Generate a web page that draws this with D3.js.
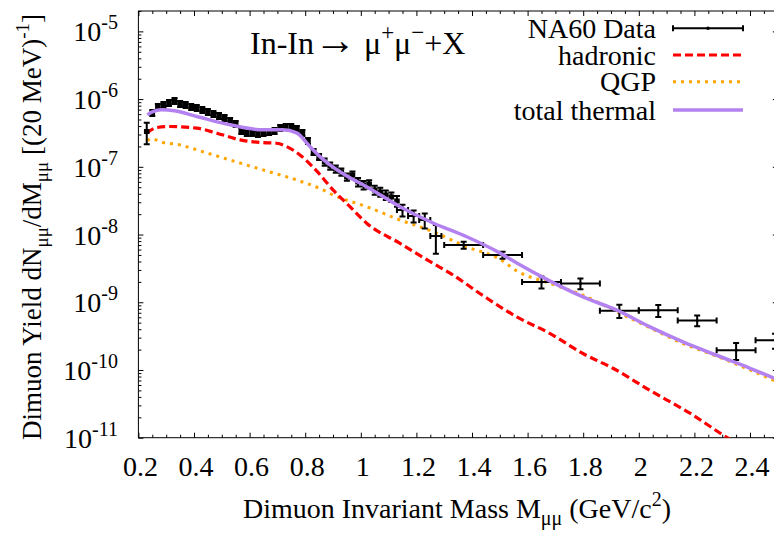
<!DOCTYPE html>
<html><head><meta charset="utf-8">
<script src="https://cdn.jsdelivr.net/npm/d3@7"></script>
<style>
body{margin:0;background:#fff}
svg{display:block}
text{font-family:"Liberation Serif","Times New Roman",serif;fill:#000}
</style>
</head><body>
<svg id="c" width="774" height="533"></svg>
<script>
// ---------------- data ----------------
const denseMass = [0.23,0.25,0.27,0.29,0.31,0.33,0.35,0.37,0.39,0.41,0.43,0.45,0.47,0.49,0.51,0.53,0.55,0.57,0.59,0.61,0.63,0.65,0.67,0.69,0.71,0.73,0.75,0.77,0.79,0.81,0.83,0.85,0.87,0.89,0.91,0.93,0.95,0.97,0.99,1.01,1.03,1.05,1.07,1.09,1.11,1.13];
const denseYield = [3.32e-7,6.27e-7,7.69e-7,8.24e-7,8.81e-7,9.44e-7,8.52e-7,8.24e-7,7.69e-7,7.43e-7,6.95e-7,6.49e-7,6.06e-7,5.66e-7,5.29e-7,4.77e-7,4.31e-7,3.40e-7,3.17e-7,3.17e-7,3.07e-7,3.17e-7,3.28e-7,3.40e-7,3.76e-7,3.89e-7,3.89e-7,3.64e-7,3.17e-7,2.42e-7,1.66e-7,1.40e-7,1.18e-7,1.03e-7,9.31e-8,8.41e-8,7.10e-8,7.59e-8,5.98e-8,5.40e-8,5.58e-8,4.55e-8,4.26e-8,3.84e-8,3.59e-8,3.13e-8];
const denseErr = [0.35,0.1,0.1,0.1,0.1,0.1,0.1,0.1,0.1,0.1,0.1,0.1,0.1,0.1,0.1,0.1,0.1,0.1,0.1,0.1,0.1,0.1,0.1,0.1,0.1,0.1,0.1,0.1,0.1,0.1,0.1,0.1,0.12,0.12,0.12,0.12,0.12,0.12,0.14,0.14,0.14,0.15,0.15,0.16,0.16,0.18];
const midMass = [1.15,1.19,1.23,1.27];
const midYield = [2.30e-8,1.88e-8,1.64e-8,9.5e-9];
const midErr = [0.2,0.2,0.25,0.45];
const tailMass = [1.37,1.51,1.65,1.79,1.93,2.07,2.21,2.35,2.49];
const tailYield = [7.0e-9,4.98e-9,2.0e-9,1.9e-9,7.5e-10,7.6e-10,5.4e-10,1.95e-10,2.75e-10];
const tailErr = [0.12,0.12,0.2,0.18,0.22,0.2,0.18,0.28,0.25];

const hadMass = [0.23,0.266,0.314,0.41,0.482,0.566,0.648,0.697,0.733,0.781,0.841,0.9,0.961,1.021,1.141,1.26,1.321,1.44,1.561,1.681,1.799,1.907,2.04,2.184,2.321,2.45];
const hadYield = [3.14e-7,3.80e-7,3.94e-7,3.72e-7,3.14e-7,2.50e-7,2.28e-7,2.23e-7,1.99e-7,1.50e-7,8.7e-8,4.57e-8,2.58e-8,1.47e-8,7.42e-9,3.75e-9,2.69e-9,1.25e-9,6.08e-10,3.45e-10,1.75e-10,1.06e-10,5.0e-11,2.3e-11,9.86e-12,5e-12];
const qgpMass = [0.232,0.245,0.29,0.35,0.41,0.53,0.648,0.769,0.864,0.9,1.021,1.141,1.26,1.381,1.501,1.561,1.681,1.799,1.921,2.04,2.159,2.28,2.4,2.5];
const qgpYield = [2.42e-7,2.6e-7,2.28e-7,2.11e-7,1.78e-7,1.26e-7,9.0e-8,6.4e-8,4.55e-8,3.84e-8,2.58e-8,1.64e-8,1.10e-8,6.6e-9,4.3e-9,2.9e-9,1.90e-9,1.27e-9,7.2e-10,4.2e-10,2.46e-10,1.6e-10,1.0e-10,6.6e-11];
const totMass = [0.232,0.25,0.284,0.33,0.41,0.53,0.648,0.72,0.769,0.817,0.85,0.889,0.95,1.021,1.141,1.26,1.381,1.501,1.561,1.681,1.799,1.921,2.04,2.159,2.28,2.4,2.5];
const totYield = [5.86e-7,6.49e-7,6.95e-7,6.71e-7,5.53e-7,4.17e-7,3.52e-7,3.52e-7,3.17e-7,1.99e-7,1.45e-7,1.07e-7,7.33e-8,5.09e-8,2.58e-8,1.48e-8,9.27e-9,5.32e-9,3.79e-9,2.05e-9,1.2e-9,7.64e-10,4.33e-10,2.6e-10,1.65e-10,1.06e-10,7.2e-11];

const xMajor = [0.2,0.4,0.6,0.8,1,1.2,1.4,1.6,1.8,2,2.2,2.4];
const xTickLabels = ["0.2","0.4","0.6","0.8","1","1.2","1.4","1.6","1.8","2","2.2","2.4"];
const yDecades = [-11,-10,-9,-8,-7,-6,-5];
const legendLabels = ["NA60 Data","hadronic","QGP","total thermal"];

// ---------------- layout ----------------
const svg = d3.select("#c");
const L=138.4, R=777.8, T=11, B=437.7;
const FS=28, SFS=20;
const x = d3.scaleLinear().domain([0.2,2.5]).range([L,R]);
const y = d3.scaleLog().domain([1e-11,2e-5]).range([B,T]);

svg.append("defs").append("clipPath").attr("id","clip")
  .append("rect").attr("x",L).attr("y",T).attr("width",R-L).attr("height",B-T);

const xMinor = d3.range(0.25,2.5,0.05).map(v=>+v.toFixed(2)).filter(v=>!xMajor.some(m=>Math.abs(m-v)<1e-6));
const yMinor = [];
yDecades.forEach(d=>{ for(let k=2;k<=9;k++){ const v=k*Math.pow(10,d); if(v<=2e-5+1e-12) yMinor.push(v);} });
const yMajor = yDecades.map(d=>Math.pow(10,d));

function ax(gen, tr){ const g=svg.append("g").attr("transform",tr).call(gen); g.select(".domain").remove(); g.selectAll("line").attr("stroke","#000"); g.selectAll("text").remove(); }
ax(d3.axisBottom(x).tickValues(xMajor).tickSize(-5),`translate(0,${B})`);
ax(d3.axisBottom(x).tickValues(xMinor).tickSize(-3),`translate(0,${B})`);
ax(d3.axisTop(x).tickValues(xMajor).tickSize(-5),`translate(0,${T})`);
ax(d3.axisTop(x).tickValues(xMinor).tickSize(-3),`translate(0,${T})`);
ax(d3.axisLeft(y).tickValues(yMajor).tickSize(-5),`translate(${L},0)`);
ax(d3.axisLeft(y).tickValues(yMinor).tickSize(-3),`translate(${L},0)`);
ax(d3.axisRight(y).tickValues(yMajor).tickSize(-5),`translate(${R},0)`);
ax(d3.axisRight(y).tickValues(yMinor).tickSize(-3),`translate(${R},0)`);

svg.append("rect").attr("x",L).attr("y",T).attr("width",R-L).attr("height",B-T)
  .attr("fill","none").attr("stroke","#000").attr("stroke-width",1);

// tick labels
svg.append("g").selectAll("text").data(xMajor).join("text")
  .attr("x",d=>x(d)+2).attr("y",476).attr("text-anchor","middle").attr("font-size",FS)
  .text((d,i)=>xTickLabels[i]);
const yl = svg.append("g").selectAll("text").data(yDecades).join("text")
  .attr("x",118).attr("y",d=>y(Math.pow(10,d))+10).attr("text-anchor","end").attr("font-size",FS);
yl.append("tspan").text("10");
yl.append("tspan").attr("font-size",SFS).attr("dy",-12).text(d=>String(d));

// axis titles
const xt = svg.append("text").attr("x",457).attr("y",518).attr("text-anchor","middle").attr("font-size",FS);
xt.append("tspan").text("Dimuon Invariant Mass M");
xt.append("tspan").attr("font-size",SFS).attr("dy",7).text("μμ");
xt.append("tspan").attr("dy",-7).text(" (GeV/c");
xt.append("tspan").attr("font-size",SFS).attr("dy",-12).text("2");
xt.append("tspan").attr("dy",12).text(")");

const yt = svg.append("text").attr("transform","translate(41,227) rotate(-90)").attr("text-anchor","middle").attr("font-size",27);
yt.append("tspan").text("Dimuon Yield dN");
yt.append("tspan").attr("font-size",19).attr("dy",7).text("μμ");
yt.append("tspan").attr("dy",-7).text("/dM");
yt.append("tspan").attr("font-size",19).attr("dy",7).text("μμ");
yt.append("tspan").attr("dy",-7).text(" [(20 MeV)");
yt.append("tspan").attr("font-size",19).attr("dy",-12).text("-1");
yt.append("tspan").attr("dy",12).text("]");

// title
const tt = svg.append("text").attr("x",250).attr("y",54).attr("font-size",32);
tt.append("tspan").text("In-In");
tt.append("tspan").attr("font-size",42).text("→");
tt.append("tspan").text(" μ");
tt.append("tspan").attr("font-size",23).attr("dy",-14).text("+");
tt.append("tspan").attr("dy",14).text("μ");
tt.append("tspan").attr("font-size",23).attr("dy",-14).text("−");
tt.append("tspan").attr("dy",14).text("+X");

// curves
const plot = svg.append("g").attr("clip-path","url(#clip)");
const line = d3.line().x(d=>x(d[0])).y(d=>y(d[1])).curve(d3.curveMonotoneX);
const zip=(a,b)=>a.map((v,i)=>[v,b[i]]);
plot.append("path").attr("d",line(zip(qgpMass,qgpYield))).attr("fill","none")
  .attr("stroke","#ffa500").attr("stroke-width",3).attr("stroke-dasharray","3,5");
plot.append("path").attr("d",line(zip(hadMass,hadYield))).attr("fill","none")
  .attr("stroke","#ff0000").attr("stroke-width",3.2).attr("stroke-dasharray","8,4");

// data points
function drawPts(ms,vs,es,xe,box){
  const g = plot.append("g").attr("stroke","#000").attr("stroke-width",2);
  ms.forEach((m,i)=>{
    const v=vs[i], e=es[i];
    const cx=x(m), cy=y(v), x0=x(m-xe), x1=x(m+xe), y0=y(v*(1-e)), y1=y(v*(1+e));
    g.append("line").attr("x1",cx).attr("x2",cx).attr("y1",y0).attr("y2",y1);
    g.append("line").attr("x1",cx-3).attr("x2",cx+3).attr("y1",y0).attr("y2",y0);
    g.append("line").attr("x1",cx-3).attr("x2",cx+3).attr("y1",y1).attr("y2",y1);
    if(box){
      g.append("rect").attr("x",x0).attr("y",cy-2.5).attr("width",x1-x0).attr("height",5).attr("fill","#000").attr("stroke","none");
    } else {
      g.append("line").attr("x1",x0).attr("x2",x1).attr("y1",cy).attr("y2",cy);
      g.append("line").attr("x1",x0).attr("x2",x0).attr("y1",cy-3).attr("y2",cy+3);
      g.append("line").attr("x1",x1).attr("x2",x1).attr("y1",cy-3).attr("y2",cy+3);
      g.append("circle").attr("cx",cx).attr("cy",cy).attr("r",1.5).attr("fill","#000").attr("stroke","none");
    }
  });
}
drawPts(denseMass,denseYield,denseErr,0.01,true);
drawPts(midMass,midYield,midErr,0.02,false);
drawPts(tailMass,tailYield,tailErr,0.07,false);

plot.append("path").attr("d",line(zip(totMass,totYield))).attr("fill","none")
  .attr("stroke","#b482f0").attr("stroke-width",3.5);

// legend
const lgY=[28.3,55,81.7,110];
const lg = svg.append("g");
lg.selectAll("text").data(legendLabels).join("text")
  .attr("x",656).attr("y",(d,i)=>lgY[i]+9.5).attr("text-anchor","end").attr("font-size",FS).text(d=>d);
const lx0=673, lx1=743;
lg.append("line").attr("x1",lx0).attr("x2",lx1).attr("y1",lgY[0]).attr("y2",lgY[0]).attr("stroke","#000").attr("stroke-width",2);
[lx0,lx1].forEach(xx=>lg.append("line").attr("x1",xx).attr("x2",xx).attr("y1",lgY[0]-3).attr("y2",lgY[0]+3).attr("stroke","#000").attr("stroke-width",2));
lg.append("circle").attr("cx",(lx0+lx1)/2).attr("cy",lgY[0]).attr("r",1.8).attr("fill","#000");
lg.append("line").attr("x1",lx0).attr("x2",lx1).attr("y1",lgY[1]).attr("y2",lgY[1]).attr("stroke","#ff0000").attr("stroke-width",3.2).attr("stroke-dasharray","8,4");
lg.append("line").attr("x1",lx0).attr("x2",lx1).attr("y1",lgY[2]).attr("y2",lgY[2]).attr("stroke","#ffa500").attr("stroke-width",3).attr("stroke-dasharray","3,5");
lg.append("line").attr("x1",lx0).attr("x2",lx1).attr("y1",lgY[3]).attr("y2",lgY[3]).attr("stroke","#b482f0").attr("stroke-width",3.5);
</script>
</body></html>
